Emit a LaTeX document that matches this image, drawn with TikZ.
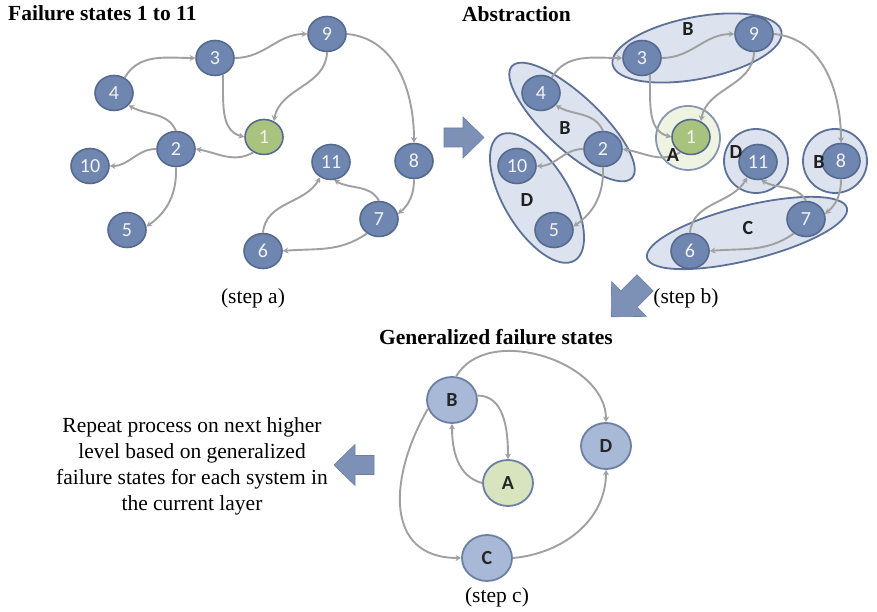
\documentclass[tikz,border=0pt]{standalone}
\usepackage{fontspec}
\setmainfont{Liberation Serif}
\newfontfamily\calfont{Carlito}
\usetikzlibrary{arrows.meta,shapes.geometric}

\definecolor{statefill}{HTML}{6F86B0}
\definecolor{stateline}{HTML}{56698F}
\definecolor{okfill}{HTML}{A8C37E}
\definecolor{grpfill}{HTML}{DCE2EE}
\definecolor{grpline}{HTML}{5D7198}
\definecolor{agrpfill}{HTML}{EEF3E2}
\definecolor{agrpline}{HTML}{8896B4}
\definecolor{genfill}{HTML}{A7B9D6}
\definecolor{genline}{HTML}{6C7FA5}
\definecolor{genok}{HTML}{D8E4BD}
\definecolor{edgegray}{HTML}{A0A0A0}
\definecolor{blockfill}{HTML}{7D91B7}
\definecolor{blockline}{HTML}{6A7FA6}

\tikzset{
  state/.style={ellipse, draw=stateline, line width=1.6pt, fill=statefill,
    minimum width=38pt, minimum height=35pt, inner sep=0pt, text=white!95!black,
    font=\calfont\fontsize{20}{20}\selectfont},
  okstate/.style={state, fill=okfill},
  edge/.style={draw=edgegray, line width=1.9pt, -{Stealth[length=5.5pt,width=6pt]}},
  grp/.style={ellipse, draw=grpline, line width=1.8pt, fill=grpfill, inner sep=0pt},
  agrp/.style={circle, draw=agrpline, line width=1.8pt, fill=agrpfill, inner sep=0pt},
  lbl/.style={font=\calfont\bfseries\fontsize{20}{20}\selectfont, text=black!88, inner sep=0pt},
  gen/.style={ellipse, draw=genline, line width=1.8pt, fill=genfill,
    minimum width=50pt, minimum height=46pt, inner sep=0pt, text=black!85,
    font=\calfont\bfseries\fontsize{20}{20}\selectfont},
  genA/.style={gen, fill=genok},
  ttl/.style={font=\bfseries\fontsize{21.5}{24}\selectfont, inner sep=0pt},
  captext/.style={font=\fontsize{21.5}{26}\selectfont, inner sep=0pt},
  blockarrow/.pic={\fill[blockfill, draw=blockline, line width=0.6pt]
    (-19,-9.5) -- (0,-9.5) -- (0,-20.5) -- (21,0) -- (0,20.5) -- (0,9.5) -- (-19,9.5) -- cycle;}
}

% failure-state graph; #1 = name prefix, #2 = horizontal offset
\newcommand\failgraph[2]{%
  \begin{scope}[shift={(#2,0)}]
    \node[state]   (#1-9)  at (327,578) {9};
    \node[state]   (#1-3)  at (215,554) {3};
    \node[state]   (#1-4)  at (114,519) {4};
    \node[state]   (#1-2)  at (176,463) {2};
    \node[okstate] (#1-1)  at (264,475) {1};
    \node[state]   (#1-10) at (90,446)  {10};
    \node[state]   (#1-5)  at (127,382) {5};
    \node[state]   (#1-11) at (331,450) {11};
    \node[state]   (#1-8)  at (414,451) {8};
    \node[state]   (#1-7)  at (379,393) {7};
    \node[state]   (#1-6)  at (263,361) {6};
  \end{scope}
  \draw[edge] (#1-4.55) to[out=60,in=180] (#1-3.west);
  \draw[edge] (#1-3.east) to[out=0,in=180] (#1-9.west);
  \draw[edge] (#1-9.east) to[out=-5,in=90] (#1-8.north);
  \draw[edge] (#1-9.south) to[out=-92,in=80] (#1-1.58);
  \draw[edge] (#1-3.-65) to[out=-88,in=165] (#1-1.west);
  \draw[edge] (#1-1.-125) to[out=-150,in=-10] (#1-2.east);
  \draw[edge] (#1-2.north) to[out=115,in=-30] (#1-4.-40);
  \draw[edge] (#1-2.west) to[out=180,in=0] (#1-10.east);
  \draw[edge] (#1-2.south) to[out=-88,in=35] (#1-5.10);
  \draw[edge] (#1-8.south) to[out=-90,in=40] (#1-7.15);
  \draw[edge] (#1-7.-130) to[out=-145,in=5] (#1-6.east);
  \draw[edge] (#1-6.north) to[out=85,in=-120] (#1-11.-125);
  \draw[edge] (#1-7.north) to[out=120,in=-30] (#1-11.-80);
}

\begin{document}
\begin{tikzpicture}[x=1pt,y=1pt]
  \useasboundingbox (0,0) rectangle (877,612);

  % ---- step a: raw failure states
  \node[ttl, anchor=base west] (titleA) at (8,591) {Failure states 1 to 11};
  \failgraph{a}{0}
  \node[captext, anchor=base] (capA) at (253,308) {(step a)};

  % arrow a -> b
  \pic at (463,474.5) {blockarrow};

  % ---- step b: abstraction into groups
  \node[ttl, anchor=base west] (titleB) at (462,590) {Abstraction};
  \node[grp, minimum width=172pt, minimum height=62pt, rotate=11]  (gB1) at (697,564) {};
  \node[grp, minimum width=164pt, minimum height=54pt, rotate=-43] (gB2) at (572,490) {};
  \node[grp, minimum width=146pt, minimum height=66pt, rotate=-59] (gD1) at (537,414) {};
  \node[agrp, minimum size=64pt] (gA)  at (688,474) {};
  \node[grp, circle, minimum size=64pt] (gD2) at (756,451) {};
  \node[grp, circle, minimum size=64pt] (gB3) at (835,451) {};
  \node[grp, minimum width=206pt, minimum height=54pt, rotate=14]  (gC)  at (747,379) {};
  \failgraph{b}{427}
  \node[lbl] (lB1) at (688,583) {B};
  \node[lbl] (lB2) at (565,484) {B};
  \node[lbl] (lD1) at (527,412) {D};
  \node[lbl] (lA)  at (673,457) {A};
  \node[lbl] (lD2) at (736,460) {D};
  \node[lbl] (lB3) at (819,450) {B};
  \node[lbl] (lC)  at (748,384) {C};
  \node[captext, anchor=base] (capB) at (686,308) {(step b)};

  % arrow b -> c
  \pic[rotate=225, scale=1.2] at (629,313) {blockarrow};

  % ---- step c: generalized failure states
  \node[ttl, anchor=base] (titleC) at (496,267) {Generalized failure states};
  \node[gen]  (cB) at (452,212) {B};
  \node[genA] (cA) at (508,129) {A};
  \node[gen]  (cD) at (606,166) {D};
  \node[gen]  (cC) at (487,54)  {C};
  \draw[edge] (cB.80) to[out=60,in=90] (cD.north);
  \draw[edge] (cB.10) to[out=0,in=90] (cA.north);
  \draw[edge] (cA.west) to[out=165,in=-90] (cB.south);
  \draw[edge] (cB.200) to[out=240,in=180,looseness=1.3] (cC.west);
  \draw[edge] (cC.east) to[out=5,in=-90] (cD.south);
  \node[captext, anchor=base] (capC) at (497,9) {(step c)};

  % arrow c -> next level
  \pic[rotate=180] at (355,147) {blockarrow};
  \node[captext, align=center, anchor=base] (repeat) at (192,101)
    {Repeat process on next higher\\level based on generalized\\failure states for each system in\\the current layer};
\end{tikzpicture}
\end{document}
